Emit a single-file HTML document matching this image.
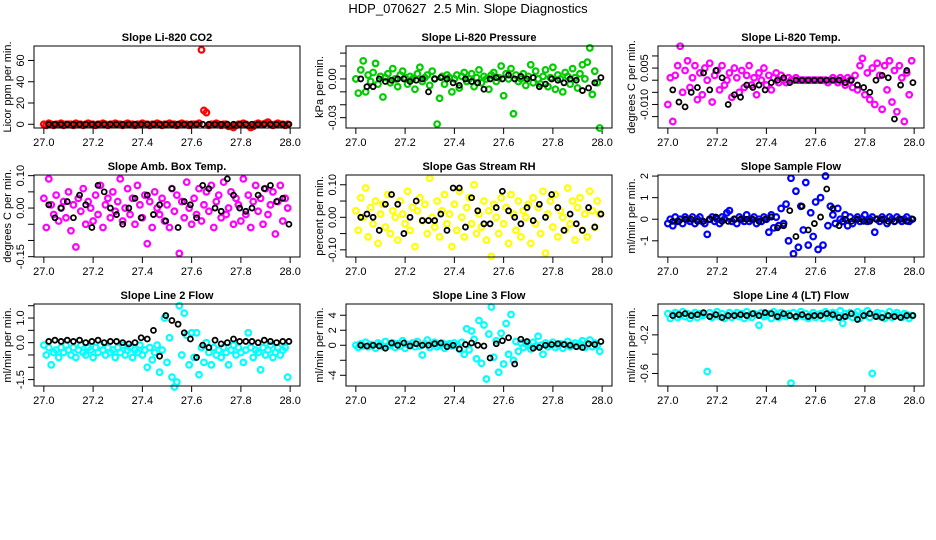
<!DOCTYPE html>
<html><head><meta charset="utf-8">
<style>
html,body{margin:0;padding:0;background:#fff;}
svg{display:block;font-family:"Liberation Sans",sans-serif;}
</style></head>
<body>
<svg id="chart" width="936" height="540" viewBox="0 0 936 540">
<text x="468" y="13" text-anchor="middle" font-size="13">HDP_070627&#160; 2.5 Min. Slope Diagnostics</text>
</svg>
<script>
// shared sample times
const tColor = [27.00,27.01,27.02,27.03,27.04,27.05,27.06,27.07,27.08,27.09,27.10,27.11,27.12,27.13,27.14,27.15,27.16,27.17,27.18,27.19,27.20,27.21,27.22,27.23,27.24,27.25,27.26,27.27,27.28,27.29,27.30,27.31,27.32,27.33,27.34,27.35,27.36,27.37,27.38,27.39,27.40,27.41,27.42,27.43,27.44,27.45,27.46,27.47,27.48,27.49,27.50,27.51,27.52,27.53,27.54,27.55,27.56,27.57,27.58,27.59,27.60,27.61,27.62,27.63,27.64,27.65,27.66,27.67,27.68,27.69,27.70,27.71,27.72,27.73,27.74,27.75,27.76,27.77,27.78,27.79,27.80,27.81,27.82,27.83,27.84,27.85,27.86,27.87,27.88,27.89,27.90,27.91,27.92,27.93,27.94,27.95,27.96,27.97,27.98,27.99];
const tBlack = [27.02,27.045,27.07,27.095,27.12,27.145,27.17,27.195,27.22,27.245,27.27,27.295,27.32,27.345,27.37,27.395,27.42,27.445,27.47,27.495,27.52,27.545,27.57,27.595,27.62,27.645,27.67,27.695,27.72,27.745,27.77,27.795,27.82,27.845,27.87,27.895,27.92,27.945,27.97,27.995];

const co2Color = [0,-1,1,0,-1,0,0,1,-1,0,0,0,-1,1,0,0,-1,0,1,0,0,-1,0,0,1,0,-1,0,0,1,0,0,-1,0,1,0,0,-1,0,0,1,0,0,-1,0,0,1,0,-1,0,0,1,0,0,-1,0,1,0,0,-1,0,0,0,1,70,13,11,-1,0,0,1,0,-1,0,0,-2,-2,-3,-1,0,0,1,0,-1,-3,-2,0,1,0,0,1,2,0,-1,0,1,0,0,-1,0];
const co2Black = [0,0,0,0,0,0,0,0,0,0,0,0,0,0,0,0,0,0,0,0,0,0,0,0,0,0,0,0,0,0,0,0,0,0,0,0,0,0,0,0];

const presColor = [0.000,-0.011,0.007,0.014,-0.010,0.003,-0.002,0.005,0.012,-0.004,0.002,-0.014,0.001,0.004,-0.003,0.008,0.000,-0.006,0.003,0.006,0.001,-0.004,0.002,0.000,-0.008,0.004,0.009,-0.002,0.001,0.003,-0.005,0.006,0.000,-0.035,-0.015,0.002,-0.004,0.003,0.001,-0.010,0.000,0.003,-0.007,0.002,0.005,-0.002,0.000,0.004,-0.006,0.001,0.007,-0.003,0.002,0.000,-0.008,0.003,0.005,-0.002,0.001,0.010,-0.013,0.004,0.000,0.008,-0.027,0.003,-0.002,0.000,0.004,-0.005,0.002,0.011,-0.003,0.006,0.000,-0.004,0.002,0.007,-0.006,0.001,0.009,-0.008,0.003,0.000,-0.010,0.005,0.002,-0.004,0.008,0.001,-0.007,0.004,0.011,0.000,0.013,0.024,-0.012,0.006,-0.003,-0.038];
const presBlack = [0.000,-0.006,-0.006,0.000,-0.002,-0.001,0.000,0.000,-0.002,-0.001,0.000,-0.010,0.000,0.001,0.000,-0.003,-0.005,0.000,-0.002,-0.003,-0.008,0.000,0.001,0.000,0.003,0.000,0.002,0.000,0.001,-0.006,-0.004,0.000,-0.001,-0.003,0.000,-0.001,-0.009,-0.007,-0.003,0.001];

const tempColor = [-0.010,0.001,-0.017,0.002,0.006,0.014,-0.005,0.004,0.008,-0.003,0.001,0.006,-0.008,0.003,-0.006,0.005,0.000,0.007,-0.009,0.002,0.004,-0.004,0.006,-0.002,0.000,0.003,-0.007,0.005,0.001,-0.005,0.004,-0.003,0.002,0.006,-0.002,0.001,-0.006,0.003,0.000,0.005,-0.002,0.002,-0.004,0.001,0.003,-0.001,0.002,0.000,-0.001,0.001,0.000,0.000,0.001,0.000,0.000,0.000,0.000,0.000,0.000,0.000,0.000,0.000,0.000,0.000,0.000,-0.001,0.000,0.001,0.000,-0.001,0.001,0.000,-0.002,0.001,0.000,-0.003,0.002,-0.004,0.006,0.009,-0.006,0.003,-0.008,0.005,-0.010,0.007,0.002,-0.012,0.006,-0.004,0.008,-0.009,0.004,-0.013,0.006,0.001,-0.017,0.003,-0.006,0.008];
const tempBlack = [-0.004,-0.009,-0.011,-0.005,-0.003,0.003,-0.004,0.004,0.001,-0.010,-0.006,-0.007,-0.002,-0.003,-0.002,-0.004,-0.001,0.000,0.001,-0.001,0.000,0.000,0.000,0.000,0.000,0.000,0.000,0.000,-0.001,0.000,-0.002,-0.003,-0.005,0.000,0.002,0.001,-0.016,-0.002,0.004,-0.001];

const ambColor = [0.03,-0.06,0.09,0.01,-0.02,0.04,-0.04,0.00,0.02,-0.03,0.05,-0.07,0.01,-0.12,0.03,-0.01,0.06,-0.05,0.02,0.00,-0.04,0.04,-0.02,0.07,-0.06,0.01,0.03,-0.03,0.05,-0.01,0.02,0.09,-0.04,0.00,0.06,-0.02,0.03,-0.05,0.07,0.01,-0.03,0.04,-0.11,0.02,-0.06,0.05,0.00,-0.02,0.03,-0.04,0.01,-0.06,0.06,-0.01,0.04,-0.14,0.02,-0.03,0.08,0.00,-0.05,0.03,-0.02,0.06,-0.04,0.01,0.05,-0.01,0.07,-0.06,0.02,0.04,-0.03,0.08,-0.02,0.00,0.05,-0.05,0.03,0.01,-0.04,0.09,-0.02,0.04,-0.06,0.02,0.07,-0.01,0.03,-0.05,0.06,-0.02,0.01,0.05,-0.08,0.02,0.07,-0.04,0.03,0.00];
const ambBlack = [0.01,-0.03,0.00,0.02,-0.03,0.04,0.01,-0.06,0.07,0.05,0.00,-0.02,-0.05,0.00,0.03,-0.03,0.04,-0.02,0.01,-0.04,0.06,-0.06,0.02,0.01,-0.03,0.07,0.06,0.00,-0.01,0.09,0.04,0.00,-0.01,0.00,0.04,0.06,0.07,0.02,0.03,-0.05];

const rhColor = [0.02,-0.04,0.06,0.00,0.09,-0.06,0.03,-0.02,0.05,-0.08,0.01,0.04,-0.03,0.07,-0.05,0.02,0.00,-0.07,0.05,0.01,-0.02,0.08,-0.04,0.03,-0.09,0.02,0.06,-0.01,0.04,-0.05,0.12,0.00,-0.03,0.05,-0.06,0.02,0.07,-0.02,0.01,-0.09,0.04,-0.04,0.08,0.00,-0.06,0.03,0.06,-0.02,0.10,-0.05,0.01,-0.03,0.05,-0.07,0.02,-0.12,0.04,0.00,-0.05,0.06,-0.02,0.03,-0.08,0.07,0.01,-0.04,0.05,-0.06,0.02,0.00,0.04,-0.08,0.06,-0.02,0.03,-0.05,0.08,-0.11,0.01,0.05,-0.03,0.07,-0.06,0.02,0.00,-0.04,0.09,-0.02,0.05,-0.07,0.03,0.06,-0.04,0.01,-0.06,0.08,0.02,-0.03,0.05,0.01];
const rhBlack = [0.00,0.01,0.00,-0.04,0.04,0.07,0.04,-0.05,0.00,0.05,-0.01,-0.01,-0.01,0.01,-0.04,0.09,0.09,-0.03,0.06,0.02,-0.02,-0.02,0.03,0.08,0.02,0.00,-0.02,0.03,-0.01,0.04,0.00,0.07,0.03,-0.04,0.01,-0.02,-0.04,0.03,-0.03,0.01];

const sampColor = [-0.2,0.0,-0.3,0.1,-0.1,0.0,-0.2,0.1,0.0,-0.1,0.1,-0.2,0.0,0.1,-0.1,-0.2,-0.7,0.0,0.1,-0.1,0.0,-0.2,0.1,0.0,0.3,0.4,-0.1,0.0,-0.2,0.1,0.0,-0.1,0.2,-0.1,0.0,0.1,-0.2,0.0,-0.1,0.1,0.0,-0.6,0.2,-0.4,0.1,-0.3,0.5,-0.2,0.7,-1.0,1.9,-1.6,1.3,-1.3,0.6,-0.5,1.7,-1.2,0.3,-0.8,0.8,-1.4,1.0,-1.2,2.0,-0.3,0.6,0.2,-0.2,0.5,0.0,-0.1,0.2,-0.3,0.1,-0.2,0.0,0.1,-0.1,0.0,0.2,-0.1,0.0,0.1,-0.6,0.0,-0.1,0.1,0.0,-0.2,0.1,0.0,-0.1,0.1,0.0,-0.1,0.0,0.1,-0.1,0.0];
const sampBlack = [-0.1,-0.1,0.0,0.0,-0.1,-0.1,0.0,0.1,-0.1,-0.1,0.0,0.0,0.0,0.0,-0.1,0.0,0.1,-0.4,-0.3,0.4,-0.8,0.6,-0.5,-0.2,0.1,1.4,0.5,-0.3,0.0,-0.1,0.0,-0.1,-0.1,0.0,0.0,-0.1,-0.1,0.0,-0.1,0.0];

const l2Color = [-0.1,-0.5,-0.2,-0.9,-0.4,-0.3,-0.6,-0.2,-0.4,-0.1,-0.3,-0.5,-0.2,-0.6,-0.3,-0.1,-0.4,-0.5,-0.2,-0.3,-0.6,-0.2,-0.4,-0.1,-0.3,-0.5,-0.2,-0.4,-0.3,-0.6,-0.2,-0.4,-0.1,-0.5,-0.3,-0.2,-0.6,-0.3,-0.4,-0.1,-0.5,-0.3,-1.0,-0.2,-0.7,-0.4,-0.1,-1.2,-0.3,1.0,-0.8,0.2,-1.4,-1.8,-1.6,1.5,-0.5,1.2,0.3,-0.9,0.4,-0.6,0.4,-1.3,-0.2,-0.8,0.0,-0.4,-0.9,-0.2,-0.5,-0.3,-0.6,-0.2,-0.4,-0.9,-0.3,-0.1,-0.5,-0.2,-0.4,-0.8,-0.3,0.4,-0.2,-0.6,-0.3,-0.4,-1.1,-0.2,-0.5,-0.3,-0.1,-0.6,-0.4,-0.2,-0.5,-0.3,-0.2,-1.4];
const l2Black = [0.05,0.1,0.05,0.1,0.05,0.1,0.0,0.05,0.1,0.0,0.05,0.05,0.0,-0.05,0.0,0.2,0.15,0.5,-0.55,1.1,0.9,0.75,0.4,0.15,-0.6,-0.1,-0.2,0.1,-0.05,0.0,0.15,0.05,0.05,0.05,0.0,0.1,0.05,0.0,0.05,0.05];

const l3Color = [0.0,-0.3,0.2,-0.1,0.4,-0.2,0.1,0.0,-0.4,0.3,0.1,-0.2,0.5,-0.1,0.0,0.3,-0.3,0.2,-0.1,0.6,-0.4,0.1,0.0,0.3,-0.2,0.5,-0.1,-1.3,0.2,0.7,-0.3,0.1,0.4,-0.2,0.0,0.3,-0.4,0.1,0.2,-0.1,0.3,0.0,-0.5,0.4,-1.2,2.2,-0.6,1.9,0.8,-1.8,3.3,-2.4,2.7,-4.5,1.5,5.1,-1.6,0.6,-3.6,1.6,-2.5,2.9,-1.2,4.1,-2.0,0.5,-0.8,0.3,-0.3,0.2,0.0,-0.5,0.4,-0.1,1.2,0.0,-1.2,0.3,-0.2,0.1,0.4,-0.3,0.0,0.2,-0.4,0.1,0.5,-0.2,0.0,0.3,-0.1,0.2,0.6,-0.3,0.1,0.7,-0.2,0.3,0.0,-0.8];
const l3Black = [0.0,-0.1,0.0,-0.1,-0.4,0.3,0.0,0.3,-0.1,0.2,0.0,0.0,0.2,0.3,-0.2,0.0,-0.5,0.1,0.3,0.0,-0.1,-1.7,0.2,0.6,1.0,-2.5,0.8,0.5,-0.4,-0.3,0.0,0.1,0.2,0.1,0.0,-0.2,-0.3,0.2,0.1,0.5];

const l4Color = [0.02,-0.03,0.01,0.03,-0.02,0.00,0.04,-0.01,0.02,-0.03,0.01,0.03,-0.02,0.02,0.00,0.01,-0.58,0.03,-0.02,0.01,0.04,-0.01,0.02,-0.03,0.00,0.03,-0.02,0.01,0.03,-0.01,0.02,-0.03,0.04,0.00,-0.02,0.02,0.01,-0.10,0.03,-0.01,0.00,0.02,-0.03,0.04,0.01,-0.02,0.03,0.00,-0.01,0.02,-0.70,0.03,-0.02,0.01,0.04,-0.01,0.02,-0.03,0.00,0.03,-0.02,0.01,0.02,-0.03,0.04,0.00,-0.02,0.03,0.01,-0.01,0.05,-0.08,0.02,0.00,0.03,-0.02,0.01,0.04,-0.03,0.02,0.00,0.05,-0.02,-0.60,0.01,0.03,-0.01,0.02,-0.03,0.00,0.04,-0.02,0.01,0.03,0.00,-0.02,0.02,0.01,-0.03,0.00];
const l4Black = [0.00,0.01,0.02,0.00,0.01,0.03,-0.01,0.01,-0.02,0.00,0.00,0.01,0.00,0.02,0.00,0.03,0.02,-0.01,0.02,0.00,-0.01,0.01,-0.01,0.00,0.00,0.02,0.01,-0.02,-0.01,0.02,-0.04,0.00,0.02,-0.01,-0.02,0.00,-0.01,-0.02,0.00,0.00];

const xTicks = [27.0,27.2,27.4,27.6,27.8,28.0];
const xTickLabels = ["27.0","27.2","27.4","27.6","27.8","28.0"];

const panels = [
 {name:"co2",title:"Slope Li-820 CO2",ylab:"Licor ppm per min.",col:0,row:0,ymin:-3.5,ymax:73.6,ticks:[0,20,40,60],labels:["0","20","40","60"],color:"#ff0000",c:co2Color,b:co2Black},
 {name:"pressure",title:"Slope Li-820 Pressure",ylab:"kPa per min.",col:1,row:0,ymin:-0.038,ymax:0.0255,ticks:[-0.03,-0.02,-0.01,0,0.01,0.02],labels:["-0.03","","","0.00","",""],color:"#00cc00",c:presColor,b:presBlack},
 {name:"li820-temp",title:"Slope Li-820 Temp.",ylab:"degrees C per min.",col:2,row:0,ymin:-0.0197,ymax:0.0141,ticks:[-0.015,-0.01,-0.005,0,0.005,0.01],labels:["","-0.010","","","0.005",""],color:"#ff00ff",c:tempColor,b:tempBlack},
 {name:"amb-box-temp",title:"Slope Amb. Box Temp.",ylab:"degrees C per min.",col:0,row:1,ymin:-0.151,ymax:0.102,ticks:[-0.15,-0.1,-0.05,0,0.05,0.1],labels:["-0.15","","","0.00","","0.10"],color:"#ff00ff",c:ambColor,b:ambBlack},
 {name:"gas-stream-rh",title:"Slope Gas Stream RH",ylab:"percent per min.",col:1,row:1,ymin:-0.122,ymax:0.13,ticks:[-0.1,-0.05,0,0.05,0.1],labels:["-0.10","","0.00","","0.10"],color:"#ffff00",c:rhColor,b:rhBlack},
 {name:"sample-flow",title:"Slope Sample Flow",ylab:"ml/min per min.",col:2,row:1,ymin:-1.75,ymax:2.05,ticks:[-1,0,1,2],labels:["-1","0","1","2"],color:"#0000ff",c:sampColor,b:sampBlack},
 {name:"line2-flow",title:"Slope Line 2 Flow",ylab:"ml/min per min.",col:0,row:2,ymin:-1.76,ymax:1.57,ticks:[-1.5,-1,-0.5,0,0.5,1,1.5],labels:["-1.5","","","0.0","","1.0",""],color:"#00ffff",c:l2Color,b:l2Black},
 {name:"line3-flow",title:"Slope Line 3 Flow",ylab:"ml/min per min.",col:1,row:2,ymin:-5.43,ymax:5.5,ticks:[-4,-2,0,2,4],labels:["-4","","0","2","4"],color:"#00ffff",c:l3Color,b:l3Black},
 {name:"line4-flow",title:"Slope Line 4 (LT) Flow",ylab:"ml/min per min.",col:2,row:2,ymin:-0.73,ymax:0.12,ticks:[-0.6,-0.4,-0.2,0],labels:["-0.6","","-0.2",""],color:"#00ffff",c:l4Color,b:l4Black}
];

const NS="http://www.w3.org/2000/svg";
const svg=document.getElementById('chart');
function mk(tag,attrs,parent){const e=document.createElementNS(NS,tag);for(const k in attrs)e.setAttribute(k,attrs[k]);(parent||svg).appendChild(e);return e;}

const colLeft=[34,346,658], rowTop=[46,175,304], W=266, H=82;
panels.forEach(p=>{
  const L=colLeft[p.col], T=rowTop[p.row], B=T+H, R=L+W;
  const g=mk('g',{});
  
  
  const xs=v=>L+9.85+(v-27.0)*246.3;
  const ys=v=>B-(v-p.ymin)/(p.ymax-p.ymin)*H;
  const t=mk('text',{x:(L+R)/2,y:T-5,'text-anchor':'middle','font-size':11,'font-weight':'bold'},g);
  t.textContent=p.title;
  
  
  const yl=mk('text',{x:0,y:0,'text-anchor':'middle','font-size':11,transform:`translate(${L-23},${(T+B)/2}) rotate(-90)`},g);
  yl.textContent=p.ylab;
  
  
  p.ticks.forEach((v,i)=>{
    const y=ys(v);
    const tk=mk('line',{x1:L-6,x2:L,y1:y,y2:y,stroke:'#000','stroke-width':1},g);
    
    
    if(p.labels[i]){
      const lb=mk('text',{x:0,y:0,'text-anchor':'middle','font-size':11,transform:`translate(${L-10},${y}) rotate(-90)`},g);
      lb.textContent=p.labels[i];
      
      
    }
  });
  xTicks.forEach((v,i)=>{
    const x=xs(v);
    const tk=mk('line',{x1:x,x2:x,y1:B,y2:B+6,stroke:'#000','stroke-width':1},g);
    
    
    const lb=mk('text',{x:x,y:B+18,'text-anchor':'middle','font-size':11},g);
    lb.textContent=xTickLabels[i];
    
    
  });
  const pts=mk('g',{fill:'none'},g);
  
  
  p.c.forEach((v,i)=>{
    const c=mk('circle',{cx:xs(tColor[i]),cy:ys(v),r:2.8,stroke:p.color,'stroke-width':2.2},pts);
    
    
  });
  p.b.forEach((v,i)=>{
    const c=mk('circle',{cx:xs(tBlack[i]),cy:ys(v),r:2.5,stroke:'#000','stroke-width':1.8},pts);
    
    
  });
  const box=mk('rect',{x:L,y:T,width:W,height:H,fill:'none',stroke:'#000','stroke-width':1},g);
  
  
});
</script>
</body></html>
